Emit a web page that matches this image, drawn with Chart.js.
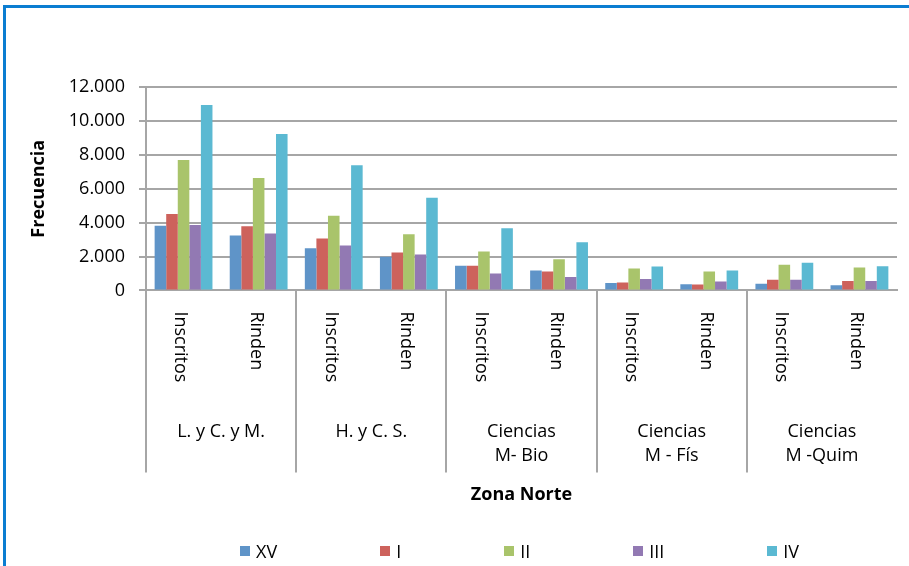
<!DOCTYPE html>
<html>
<head>
<meta charset="utf-8">
<script src="https://cdn.jsdelivr.net/npm/chart.js@4.4.1/dist/chart.umd.min.js"></script>
<style>
    html, body { margin: 0; padding: 0; background: #fff; overflow: hidden; }
    #frame {
        position: absolute; left: 3px; top: 5px; width: 960px; height: 620px;
        border: 3px solid #0b7dd1; box-sizing: border-box;
    }
    #wrap { position: absolute; left: 0; top: 0; width: 909px; height: 566px; }
    #legend {
        position: absolute; left: 240px; top: 539px; display: flex; gap: 103px;
        font: 18px "Open Sans", sans-serif; color: #000;
    }
    #legend .item { display: flex; align-items: center; }
    #legend .box { width: 10px; height: 10px; margin-right: 6px; }
</style>
</head>
<body>
<div id="frame"></div>
<div id="wrap"><canvas id="chart" width="909" height="566"></canvas></div>
<div id="legend"></div>
<script>
// Category labels (two levels)
const subLabels = ['Inscritos', 'Rinden', 'Inscritos', 'Rinden', 'Inscritos', 'Rinden', 'Inscritos', 'Rinden', 'Inscritos', 'Rinden'];
const groupLabels = [['L. y C. y M.'], ['H. y C. S.'], ['Ciencias', 'M- Bio'], ['Ciencias', 'M - Fís'], ['Ciencias', 'M -Quim']];

// Series values
const seriesNames = ['XV', 'I', 'II', 'III', 'IV'];
const xvValues  = [3820, 3240, 2490, 1980, 1450, 1180, 430, 370, 390, 310];
const iValues   = [4510, 3780, 3060, 2240, 1450, 1120, 470, 350, 630, 550];
const iiValues  = [7690, 6630, 4410, 3310, 2290, 1840, 1290, 1120, 1510, 1350];
const iiiValues = [3860, 3350, 2650, 2120, 1000, 790, 670, 530, 630, 550];
const ivValues  = [10940, 9220, 7390, 5470, 3670, 2840, 1410, 1180, 1630, 1430];

const seriesColors = ['#5f94c8', '#cd625c', '#a9c46b', '#9279b3', '#5bb9d2'];
const allValues = [xvValues, iValues, iiValues, iiiValues, ivValues];

const fontFamily = '"Open Sans", sans-serif';
const gridColor = '#a6a6a6';

// Format numbers with dot as thousands separator
function formatThousands(v) {
    return String(v).replace(/\B(?=(\d{3})+(?!\d))/g, '.');
}

// Draws the rotated sub labels and the group labels under the axis
const multiLevelLabels = {
    id: 'multiLevelLabels',
    afterDraw(chart) {
        const ctx = chart.ctx;
        const xScale = chart.scales.x;
        const top = xScale.top;
        ctx.save();
        ctx.fillStyle = '#000';
        ctx.font = '18px ' + fontFamily;

        subLabels.forEach((label, i) => {
            const x = xScale.getPixelForValue(i) - 3;
            ctx.save();
            ctx.translate(x, top + 21);
            ctx.rotate(Math.PI / 2);
            ctx.textAlign = 'left';
            ctx.textBaseline = 'middle';
            ctx.fillText(label, 0, 0);
            ctx.restore();
        });

        ctx.textAlign = 'center';
        ctx.textBaseline = 'middle';
        groupLabels.forEach((lines, g) => {
            const x = (xScale.getPixelForValue(g * 2) + xScale.getPixelForValue(g * 2 + 1)) / 2;
            lines.forEach((line, k) => {
                ctx.fillText(line, x, top + 141 + k * 24);
            });
        });
        ctx.restore();
    }
};

const ctx = document.getElementById('chart').getContext('2d');

const chart = new Chart(ctx, {
    type: 'bar',
    data: {
        labels: subLabels,
        datasets: seriesNames.map((name, i) => ({
            label: name,
            data: allValues[i],
            backgroundColor: seriesColors[i],
            borderWidth: 0,
            categoryPercentage: 0.77,
            barPercentage: 1.0
        }))
    },
    options: {
        responsive: false,
        animation: false,
        layout: {
            padding: { top: 87, right: 12, bottom: 60, left: 0 }
        },
        scales: {
            x: {
                ticks: { display: false },
                grid: {
                    offset: true,
                    drawOnChartArea: false,
                    drawTicks: true,
                    tickLength: 182,
                    lineWidth: 2,
                    color: c => (c.index % 2 === 0 ? gridColor : 'rgba(0,0,0,0)')
                },
                border: { color: gridColor, width: 2 },
                title: {
                    display: true,
                    text: 'Zona Norte',
                    color: '#000',
                    font: { family: fontFamily, size: 18, weight: 'bold' },
                    padding: { top: 12, bottom: 0 }
                }
            },
            y: {
                min: 0,
                max: 12000,
                afterFit: scale => { scale.width = 146; },
                ticks: {
                    stepSize: 2000,
                    padding: 14,
                    color: '#000',
                    font: { family: fontFamily, size: 18 },
                    callback: v => formatThousands(v)
                },
                grid: {
                    color: gridColor,
                    lineWidth: 2,
                    tickLength: 7
                },
                border: { color: gridColor, width: 2 },
                title: {
                    display: true,
                    text: 'Frecuencia',
                    color: '#000',
                    font: { family: fontFamily, size: 18, weight: 'bold' },
                    padding: { top: 28, bottom: 0 }
                }
            }
        },
        plugins: {
            legend: { display: false },
            tooltip: { enabled: false }
        }
    },
    plugins: [multiLevelLabels]
});

// HTML legend built from the datasets
const legendEl = document.getElementById('legend');
chart.data.datasets.forEach(ds => {
    const item = document.createElement('div');
    item.className = 'item';
    const box = document.createElement('span');
    box.className = 'box';
    box.style.background = ds.backgroundColor;
    const text = document.createElement('span');
    text.textContent = ds.label;
    item.appendChild(box);
    item.appendChild(text);
    legendEl.appendChild(item);
});
</script>
</body>
</html>
